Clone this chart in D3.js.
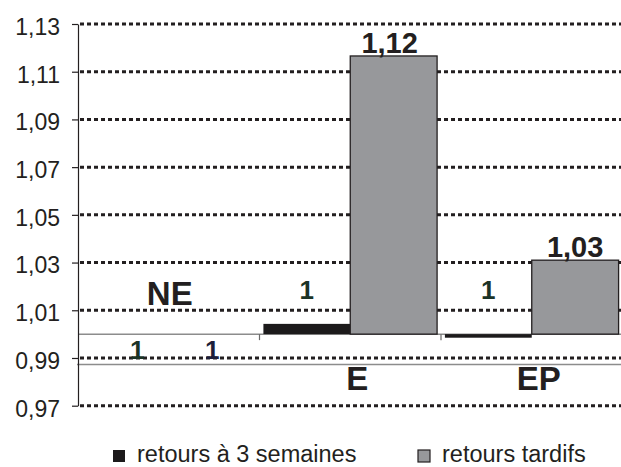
<!DOCTYPE html>
<html><head><meta charset="utf-8">
<script src="https://cdn.jsdelivr.net/npm/d3@7"></script>
<style>
html,body{margin:0;padding:0;background:#fff;}
svg{display:block;font-family:"Liberation Sans",Arial,sans-serif;}
</style></head>
<body>
<svg id="chart" width="621" height="467"></svg>
<script>
// ---- data ----
const categories = ["NE", "E", "EP"];
const seriesNames = ["retours à 3 semaines", "retours tardifs"];
const earlyValues = [1.0, 1.0043, 0.9985];
const lateValues  = [1.0, 1.1166, 1.031];
const earlyLabels = ["1", "1", "1"];
const lateLabels  = ["1", "1,12", "1,03"];
const yTickValues = [0.97, 0.99, 1.01, 1.03, 1.05, 1.07, 1.09, 1.11, 1.13];
const baseValue = 1.0;
const lowerRuleValue = 0.9873;

(function draw() {
// ---- layout ----
const svg = d3.select("#chart");
const ink = "#231f20";
const plotLeft = 78, plotRight = 622.5, plotTop = 24, plotBottom = 405.7;

const y = d3.scaleLinear().domain([0.97, 1.13]).range([plotBottom, plotTop]);
const x = d3.scaleBand().domain(categories).range([plotLeft, plotRight]).padding(0);
const xs = d3.scaleBand().domain(seriesNames).range([0, x.bandwidth()]).paddingInner(0).paddingOuter(0.045);
const fills = {"retours à 3 semaines": "#1c1a1b", "retours tardifs": "#97989b"};

// gridlines
svg.append("g").selectAll("line").data(yTickValues).join("line")
  .attr("x1", plotLeft + 2).attr("x2", 625)
  .attr("y1", d => y(d)).attr("y2", d => y(d))
  .attr("stroke", ink).attr("stroke-width", 3).attr("stroke-dasharray", "4,3");

// lower rule (thin gray)
svg.append("line").attr("x1", plotLeft - 1).attr("x2", 625)
  .attr("y1", y(lowerRuleValue)).attr("y2", y(lowerRuleValue))
  .attr("stroke", "#8c8c8c").attr("stroke-width", 1.5);

// baseline axis at 1
svg.append("line").attr("x1", plotLeft).attr("x2", 625)
  .attr("y1", y(baseValue)).attr("y2", y(baseValue))
  .attr("stroke", "#8c8c8c").attr("stroke-width", 1.5);
svg.append("g").selectAll("line").data(categories.slice(1)).join("line")
  .attr("x1", d => x(d)).attr("x2", d => x(d))
  .attr("y1", y(baseValue)).attr("y2", y(baseValue) + 6)
  .attr("stroke", "#6b6b6b").attr("stroke-width", 1.2);

// bars
const rows = [];
categories.forEach((c, i) => {
  rows.push({cat: c, s: seriesNames[0], v: earlyValues[i], label: earlyLabels[i], i});
  rows.push({cat: c, s: seriesNames[1], v: lateValues[i], label: lateLabels[i], i});
});
svg.append("g").selectAll("rect").data(rows.filter(r => r.v !== baseValue)).join("rect")
  .attr("x", d => x(d.cat) + xs(d.s))
  .attr("width", xs.bandwidth())
  .attr("y", d => Math.min(y(d.v), y(baseValue)))
  .attr("height", d => Math.abs(y(d.v) - y(baseValue)))
  .attr("fill", d => fills[d.s])
  .attr("stroke", d => d.s === seriesNames[1] ? ink : "none")
  .attr("stroke-width", 1.3);

// y axis
const yAxis = d3.axisLeft(y).tickValues(yTickValues).tickSize(6).tickSizeOuter(0).tickPadding(12)
  .tickFormat(d => d3.format(".2f")(d).replace(".", ","));
const ga = svg.append("g").attr("transform", `translate(${plotLeft},0)`).call(yAxis);
ga.select(".domain").attr("stroke", ink).attr("stroke-width", 1.2);
ga.selectAll(".tick line").attr("stroke", ink).attr("stroke-width", 1.2);
ga.selectAll(".tick text").attr("fill", ink).attr("font-size", 23).attr("dy", "0.45em")
  .attr("font-family", "Liberation Sans, Arial, sans-serif");

// value labels
svg.append("g").selectAll("text").data(rows).join("text")
  .attr("x", d => x(d.cat) + xs(d.s) + xs.bandwidth() / 2 + (d.i === 0 && d.s === seriesNames[0] ? 12 : 0) - (d.i === 1 && d.s === seriesNames[1] ? 4 : 0))
  .attr("y", d => {
    if (d.i === 0) return y(baseValue) + 24.5;
    if (d.s === seriesNames[0]) return y(baseValue) - 35.5;
    return y(d.v) - 3;
  })
  .attr("text-anchor", "middle")
  .attr("font-weight", "bold")
  .attr("font-size", d => d.s === seriesNames[0] || d.i === 0 ? 26 : 29)
  .attr("fill", d => d.s === seriesNames[0] ? "#1b3326" : (d.i === 0 ? "#1d1e3a" : ink))
  .text(d => d.label);

// category labels
svg.append("g").selectAll("text").data(categories).join("text")
  .attr("x", (d, i) => x(d) + x.bandwidth() / 2 + (i === 0 ? 1 : 7))
  .attr("y", (d, i) => i === 0 ? 305 : 390)
  .attr("text-anchor", "middle").attr("font-weight", "bold").attr("font-size", 33)
  .attr("fill", ink).text(d => d);

// legend
const legendX = [113, 418];
const lg = svg.append("g");
seriesNames.forEach((s, i) => {
  lg.append("rect").attr("x", legendX[i]).attr("y", 450).attr("width", 12).attr("height", 12)
    .attr("fill", fills[s]).attr("stroke", i === 1 ? ink : "none").attr("stroke-width", 1.2);
  lg.append("text").attr("x", legendX[i] + 24).attr("y", 462).attr("font-size", 23.5)
    .attr("fill", ink).text(s);
});
})();
</script>
</body></html>
